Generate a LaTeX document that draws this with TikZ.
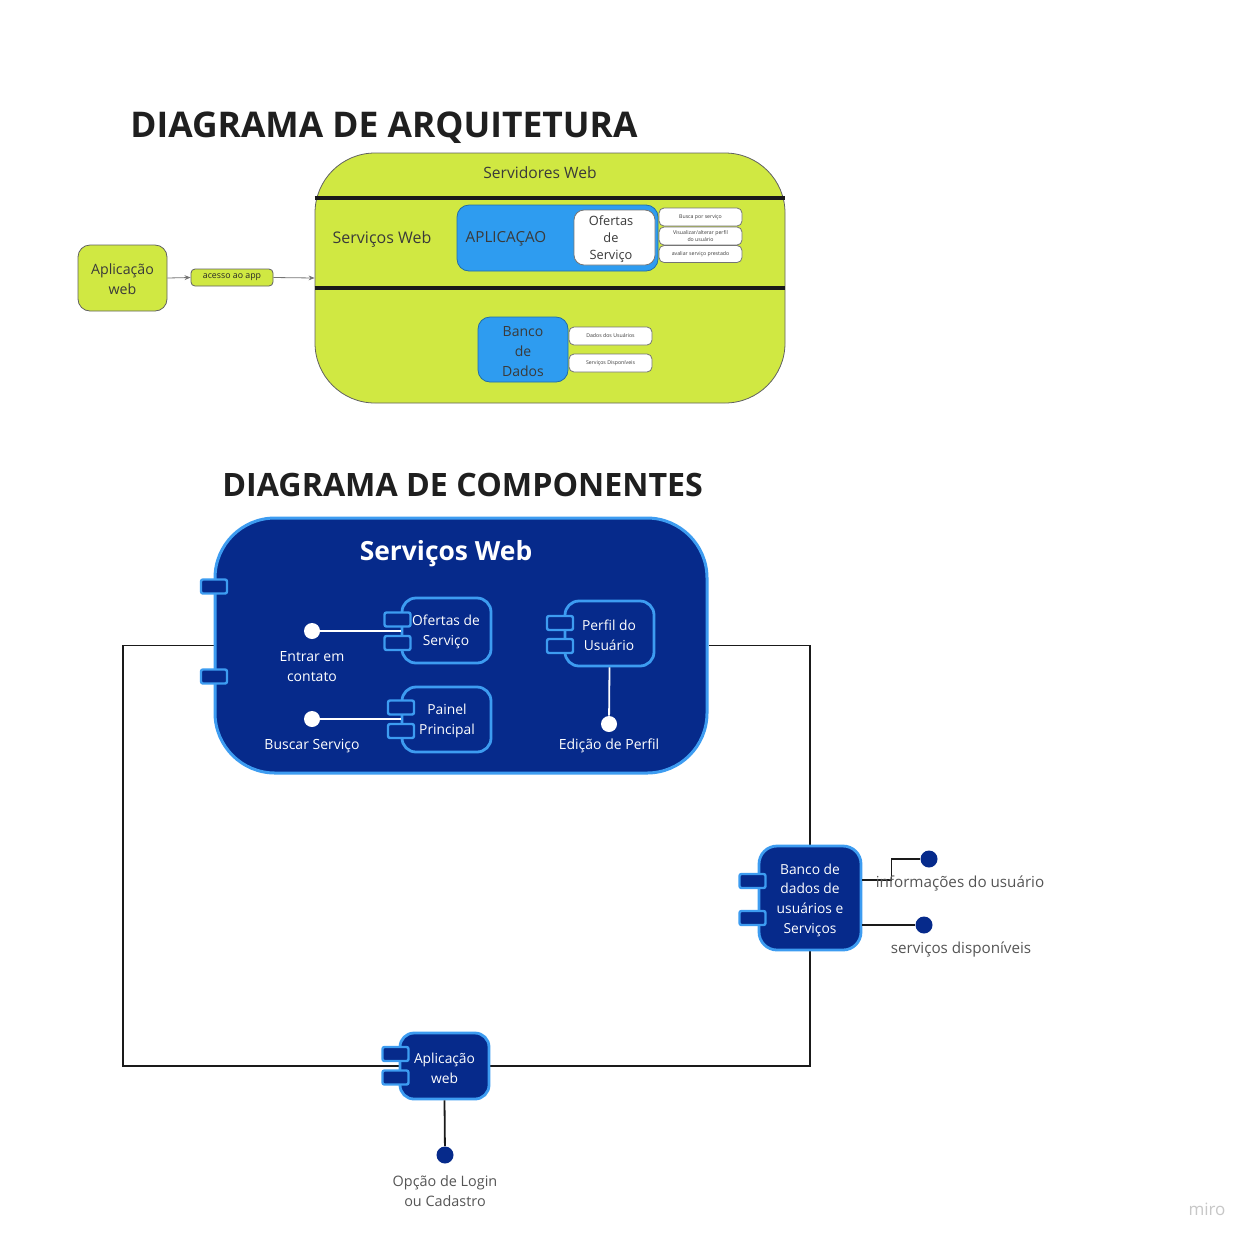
\documentclass[tikz,border=0pt]{standalone}
\usepackage{fontspec}
\setmainfont{Open Sans}
\usetikzlibrary{arrows.meta,backgrounds,positioning}
\definecolor{limeg}{HTML}{D0E842}
\definecolor{txtd}{HTML}{3A3A3A}
\definecolor{bluet}{HTML}{2E9CF0}
\definecolor{navy}{HTML}{062A8B}
\definecolor{lblue}{HTML}{3D9CF1}
\definecolor{lnk}{HTML}{1A1A1A}
\definecolor{lbl}{HTML}{555555}
\tikzset{
  ttl/.style={inner sep=0pt, text=black!88},
  limebox/.style={draw=txtd!80, line width=0.4pt, fill=limeg, rounded corners=6pt, inner sep=0pt, text=txtd, align=center},
  bluebox/.style={draw=bluet!70!black, line width=0.4pt, fill=bluet, rounded corners=6pt, inner sep=0pt, text=txtd, align=center},
  whitebox/.style={draw=txtd!70, line width=0.4pt, fill=white, rounded corners=2.5pt, inner sep=0pt, text=txtd, align=center},
  tiny/.style={font=\fontsize{2.6}{3.1}\selectfont},
  comp/.style={draw=lblue, line width=1.4pt, fill=navy, rounded corners=7pt, inner sep=0pt, text=white, align=center, font=\fontsize{6.9}{9.9}\selectfont},
  port/.style={draw=lblue, line width=1.2pt, fill=navy, minimum width=13pt, minimum height=7pt, inner sep=0pt, rounded corners=1pt},
  wdot/.style={circle, fill=white, minimum size=8pt, inner sep=0pt},
  ndot/.style={circle, fill=navy, minimum size=8.5pt, inner sep=0pt},
  wlbl/.style={text=white, align=center, font=\fontsize{7.0}{10}\selectfont},
  glbl/.style={text=lbl, align=center, font=\fontsize{7.6}{10}\selectfont},
  conn/.style={draw=lnk, line width=0.7pt},
  arr/.style={draw=txtd!70, line width=0.4pt, -{Stealth[length=3pt,width=2.4pt]}},
}
\begin{document}
\begin{tikzpicture}[x=0.5pt,y=-0.5pt]
\begin{pgfonlayer}{background}
\fill[white] (0,0) rectangle (1256,1243);
\end{pgfonlayer}
\useasboundingbox (0,0) rectangle (1256,1243);

% ---------------- Architecture diagram ----------------
\node[ttl, font=\fontsize{17.7}{20}\selectfont\bfseries, anchor=base west] (t1) at (130,137) {DIAGRAMA DE ARQUITETURA};

\node[limebox, rounded corners=30pt, minimum width=235pt, minimum height=125pt] (sv) at (550,278) {};
\node[text=txtd, font=\fontsize{7.8}{10}\selectfont] (svt) at (540,173) {Servidores Web};
\draw[line width=2pt, draw=black!90] (sv.west |- 0,198) coordinate (l1a) -- (sv.east |- 0,198) coordinate (l1b);
\draw[line width=2pt, draw=black!90] (sv.west |- 0,288) coordinate (l2a) -- (sv.east |- 0,288) coordinate (l2b);
\node[text=txtd, font=\fontsize{8.0}{10}\selectfont] (swt) at (382,239) {Serviços Web};

\node[bluebox, minimum width=100.5pt, minimum height=33pt] (apl) at (557.5,238) {};
\node[text=txtd, font=\fontsize{7.6}{10}\selectfont] (aplt) at (506,239) {APLICAÇAO};
\node[whitebox, rounded corners=5pt, minimum width=40.5pt, minimum height=27.5pt] (ofs) at (614.5,237.5) {};
\node[text=txtd, align=center, font=\fontsize{6.4}{8.4}\selectfont] (ofst) at (611,239) {Ofertas\\de\\Serviço};

\node[whitebox, tiny, minimum width=41.5pt, minimum height=9pt] (b1) at (700.5,217) {Busca por serviço};
\node[whitebox, tiny, minimum width=41.5pt, minimum height=9pt] (b2) at (700.5,236) {Visualizar/alterar perfil\\do usuário};
\node[whitebox, tiny, minimum width=41.5pt, minimum height=8.5pt] (b3) at (700.5,254) {avaliar serviço prestado};

\node[bluebox, minimum width=45pt, minimum height=32.5pt] (bd) at (523,349.5) {};
\node[text=txtd, align=center, font=\fontsize{7}{10}\selectfont] (bdt) at (523,351.5) {Banco\\de\\Dados};
\node[whitebox, tiny, minimum width=41.5pt, minimum height=9pt] (d1) at (610.5,336) {Dados dos Usuários};
\node[whitebox, tiny, minimum width=41.5pt, minimum height=9pt] (d2) at (610.5,363) {Serviços Disponíveis};

\node[limebox, minimum width=44.5pt, minimum height=33pt] (aw) at (122.5,278) {};
\node[text=txtd, align=center, font=\fontsize{7.1}{10}\selectfont] (awt) at (122.5,279) {Aplicação\\web};
\node[limebox, rounded corners=2pt, minimum width=41pt, minimum height=8.5pt, font=\fontsize{4.4}{5}\selectfont, text=black!85] (acc) at (232,277.5) {acesso ao app};
\draw[arr] (aw.east) -- (acc.west);
\draw[arr] (acc.east) -- (sv.west);

% ---------------- Component diagram ----------------
\node[ttl, font=\fontsize{16.1}{20}\selectfont\bfseries, anchor=base west] (t2) at (222,496) {DIAGRAMA DE COMPONENTES};

\node[comp, rounded corners=30pt, line width=1.5pt, minimum width=246pt, minimum height=127.5pt] (sw) at (461,645.5) {};
\node[text=white, font=\fontsize{13.2}{16}\selectfont\bfseries] (swl) at (446,554) {Serviços Web};
\node[port] (swp1) at (214,586.5) {};
\node[port] (swp2) at (214,676.5) {};

% Ofertas de Servico
\node[comp, minimum width=44.5pt, minimum height=32.5pt] (of) at (446.5,630.5) {};
\node[text=white, align=center, font=\fontsize{6.9}{9.9}\selectfont] (oft) at (446,632) {Ofertas de\\Serviço};
\node[port] (ofp1) at (397.5,619.5) {};
\node[port] (ofp2) at (397.5,643) {};
\node[wdot] (ec) at (312,631) {};
\node[wlbl] (ecl) at (312,667) {Entrar em\\contato};
\draw[white, line width=0.9pt] (ec) -- (ec -| of.west);

% Painel Principal
\node[comp, minimum width=44.5pt, minimum height=32.5pt] (pp) at (446.5,719.5) {};
\node[text=white, align=center, font=\fontsize{6.9}{9.9}\selectfont] (ppt) at (447,721) {Painel\\Principal};
\node[port] (ppp1) at (401,707.5) {};
\node[port] (ppp2) at (401,731) {};
\node[wdot] (bs) at (312,719) {};
\node[wlbl] (bsl) at (312,746) {Buscar Serviço};
\draw[white, line width=0.9pt] (bs) -- (bs -| pp.west);

% Perfil do Usuario
\node[comp, minimum width=44.5pt, minimum height=32.5pt] (pf) at (609.5,633.5) {};
\node[text=white, align=center, font=\fontsize{6.9}{9.9}\selectfont] (pft) at (609,635) {Perfil do\\Usuário};
\node[port] (pfp1) at (560,623) {};
\node[port] (pfp2) at (560,646) {};
\node[wdot] (ed) at (609,724) {};
\node[wlbl] (edl) at (609,746) {Edição de Perfil};
\draw[white, line width=0.9pt] (pf.south) -- (ed);

% Banco de dados
\node[comp, rounded corners=9pt, minimum width=51pt, minimum height=52pt] (db) at (810,898) {};
\node[text=white, align=center, font=\fontsize{6.9}{9.8}\selectfont] (dbt) at (810,900) {Banco de\\dados de\\usuários e\\Serviços};
\node[port] (dbp1) at (752.5,881) {};
\node[port] (dbp2) at (752.5,918) {};
\node[ndot] (c1) at (929,859) {};
\node[ndot] (c2) at (924,925) {};
\draw[conn, line width=0.9pt] ([yshift=9pt]db.east) -- ++(29,0) |- (c1);
\draw[conn, line width=0.9pt] ([yshift=-13.5pt]db.east) -- (c2);
\node[glbl] (c1l) at (960,883) {informações do usuário};
\node[glbl] (c2l) at (961,949) {serviços disponíveis};

% Aplicacao web
\node[comp, minimum width=44.5pt, minimum height=33pt] (app) at (444.5,1066) {};
\node[text=white, align=center, font=\fontsize{6.9}{9.9}\selectfont] (appt) at (444.5,1068) {Aplicação\\web};
\node[port] (appp1) at (395.5,1054) {};
\node[port] (appp2) at (395.5,1077.5) {};
\node[ndot] (lg) at (445,1155) {};
\node[glbl, font=\fontsize{7.2}{9.6}\selectfont] (lgl) at (445,1191) {Opção de Login\\ou Cadastro};
\draw[conn, line width=0.9pt] (app.south) -- (lg);

\coordinate (lc) at (123,645.5);
\begin{pgfonlayer}{background}
\draw[conn] (sw.west) -- (lc) |- (app.west);
\draw[conn] (sw.east) -| (db.north);
\draw[conn] (db.south) |- (app.east);
\end{pgfonlayer}

\node[text=black!22, font=\fontsize{8.5}{10}\selectfont] (miro) at (1207,1209) {miro};
\end{tikzpicture}
\end{document}
